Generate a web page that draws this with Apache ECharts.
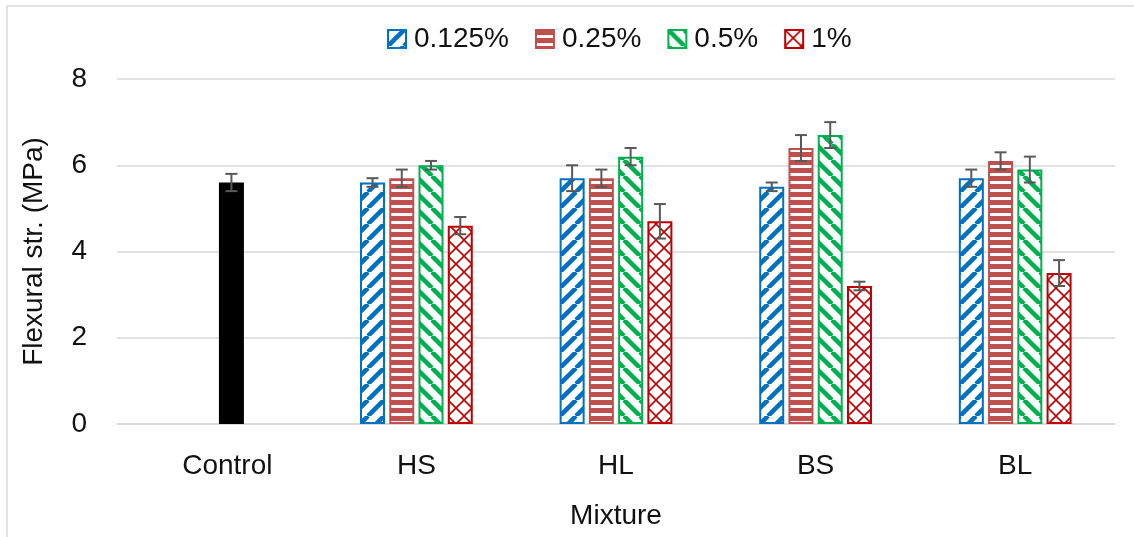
<!DOCTYPE html>
<html>
<head>
<meta charset="utf-8">
<script src="https://cdn.jsdelivr.net/npm/echarts@6/dist/echarts.min.js"></script>
<style>
  html, body { margin: 0; padding: 0; background: #fff; }
  #chart { width: 1134px; height: 537px; }
</style>
</head>
<body>
<div id="chart"></div>
<script>
// Mixture categories and flexural strength (MPa) per fibre dosage
const categories = ['Control', 'HS', 'HL', 'BS', 'BL'];
const seriesNames = ['0.125%', '0.25%', '0.5%', '1%'];

const controlValue = 5.6;
const controlError = 0.2;

const values0125 = [null, 5.6, 5.7, 5.5, 5.7];
const values025  = [null, 5.7, 5.7, 6.4, 6.1];
const values05   = [null, 6.0, 6.2, 6.7, 5.9];
const values1    = [null, 4.6, 4.7, 3.2, 3.5];

// Standard deviations shown as error bars
const errors0125 = [null, 0.1, 0.3, 0.1, 0.2];
const errors025  = [null, 0.2, 0.2, 0.3, 0.2];
const errors05   = [null, 0.1, 0.2, 0.3, 0.3];
const errors1    = [null, 0.2, 0.4, 0.1, 0.3];

const yTicks = [0, 2, 4, 6, 8];

// ---- fill patterns ----
function diagonalTile(color, up) {
  const s = 16;
  const c = document.createElement('canvas');
  c.width = s; c.height = s;
  const g = c.getContext('2d');
  g.fillStyle = '#fff';
  g.fillRect(0, 0, s, s);
  g.strokeStyle = color;
  g.lineWidth = 4.5;
  for (const k of [-s, 0, s]) {
    g.beginPath();
    if (up) { g.moveTo(k, s); g.lineTo(k + s, 0); }
    else    { g.moveTo(k, 0); g.lineTo(k + s, s); }
    g.stroke();
  }
  return c;
}
function horizontalTile(color) {
  const c = document.createElement('canvas');
  c.width = 8; c.height = 8;
  const g = c.getContext('2d');
  g.fillStyle = '#fff';
  g.fillRect(0, 0, 8, 8);
  g.fillStyle = color;
  g.fillRect(0, 0, 8, 5);
  return c;
}
function crossTile(color) {
  const s = 16;
  const c = document.createElement('canvas');
  c.width = s; c.height = s;
  const g = c.getContext('2d');
  g.fillStyle = '#fff';
  g.fillRect(0, 0, s, s);
  g.strokeStyle = color;
  g.lineWidth = 1.6;
  for (const k of [-s, 0, s]) {
    g.beginPath(); g.moveTo(k, 0); g.lineTo(k + s, s); g.stroke();
    g.beginPath(); g.moveTo(k, s); g.lineTo(k + s, 0); g.stroke();
  }
  return c;
}

const edgeColors = ['#0070C0', '#C0504D', '#00B050', '#C00000'];
const fills = [
  { image: diagonalTile('#0070C0', true), repeat: 'repeat' },
  { image: horizontalTile('#C0504D'), repeat: 'repeat' },
  { image: diagonalTile('#00B050', false), repeat: 'repeat' },
  { image: crossTile('#C00000'), repeat: 'repeat' }
];

const allValues = [values0125, values025, values05, values1];
const allErrors = [errors0125, errors025, errors05, errors1];

// Control sits in the 0.5% slot, drawn solid black
const barData = allValues.map((vals, si) => vals.map((v, ci) => {
  if (si === 2 && ci === 0) {
    return { value: controlValue, itemStyle: { color: '#000', borderColor: '#000' } };
  }
  return v;
}));
const errData = allErrors.map((errs, si) => errs.map((e, ci) => {
  if (si === 2 && ci === 0) return controlError;
  return e;
}));

const BAR_W = 25;
const BAR_GAP = 0.17;
const PITCH = BAR_W * (1 + BAR_GAP);

const errorPoints = [];
barData.forEach((arr, si) => arr.forEach((d, ci) => {
  const v = d == null ? null : (typeof d === 'object' ? d.value : d);
  const e = errData[si][ci];
  if (v != null && e != null) errorPoints.push([ci, v, e, si]);
}));

const font = '"Liberation Sans", Arial, sans-serif';

const barSeries = seriesNames.map((name, si) => ({
  name: name,
  type: 'bar',
  data: barData[si],
  barWidth: BAR_W,
  barGap: (BAR_GAP * 100) + '%',
  itemStyle: { color: fills[si], borderColor: edgeColors[si], borderWidth: 2 },
  emphasis: { disabled: true }
}));

const chart = echarts.init(document.getElementById('chart'), null, { renderer: 'canvas' });
chart.setOption({
  animation: false,
  backgroundColor: '#fff',
  graphic: [{
    type: 'rect',
    shape: { x: 7, y: 6, width: 1140, height: 540 },
    style: { fill: 'none', stroke: '#D9D9D9', lineWidth: 1.5 },
    silent: true
  }],
  legend: {
    data: seriesNames,
    top: 20,
    left: 382,
    icon: 'rect',
    itemWidth: 18,
    itemHeight: 18,
    itemGap: 26,
    textStyle: { fontFamily: font, fontSize: 28, color: '#111', padding: [0, 0, 0, 3] },
    selectedMode: false
  },
  grid: { left: 117, right: 19, top: 79, bottom: 113, containLabel: false },
  xAxis: {
    type: 'category',
    data: categories,
    name: 'Mixture',
    nameLocation: 'middle',
    nameGap: 78,
    nameTextStyle: { fontFamily: font, fontSize: 28, color: '#111' },
    axisLine: { lineStyle: { color: '#D9D9D9', width: 1.5 } },
    axisTick: { show: false },
    axisLabel: {
      fontFamily: font, fontSize: 28, color: '#111', margin: 28,
      // the Control label is nudged right so it sits under its single bar
      formatter: function (v, i) { return i === 0 ? '{c|' + v + '}' : v; },
      rich: { c: { fontFamily: font, fontSize: 28, color: '#111', padding: [0, 0, 0, 21] } }
    }
  },
  yAxis: {
    type: 'value',
    min: yTicks[0],
    max: yTicks[yTicks.length - 1],
    interval: yTicks[1] - yTicks[0],
    name: 'Flexural str. (MPa)',
    nameLocation: 'middle',
    nameGap: 69,
    nameTextStyle: { fontFamily: font, fontSize: 28, color: '#111' },
    axisLine: { show: false },
    axisTick: { show: false },
    axisLabel: { fontFamily: font, fontSize: 28, color: '#111', margin: 30 },
    splitLine: { lineStyle: { color: '#D9D9D9', width: 1.5 } }
  },
  series: barSeries.concat([{
    name: 'error',
    type: 'custom',
    data: errorPoints,
    z: 5,
    silent: true,
    encode: { x: 0, y: 1 },
    renderItem: function (params, api) {
      const ci = api.value(0), v = api.value(1), e = api.value(2), si = api.value(3);
      const base = api.coord([ci, v]);
      const x = base[0] + (si - 1.5) * PITCH;
      const yTop = api.coord([ci, v + e])[1];
      const yBot = api.coord([ci, v - e])[1];
      const cap = 6;
      const st = { stroke: '#595959', lineWidth: 2 };
      return {
        type: 'group',
        children: [
          { type: 'line', shape: { x1: x, y1: yTop, x2: x, y2: yBot }, style: st },
          { type: 'line', shape: { x1: x - cap, y1: yTop, x2: x + cap, y2: yTop }, style: st },
          { type: 'line', shape: { x1: x - cap, y1: yBot, x2: x + cap, y2: yBot }, style: st }
        ]
      };
    }
  }])
});
</script>
</body>
</html>
